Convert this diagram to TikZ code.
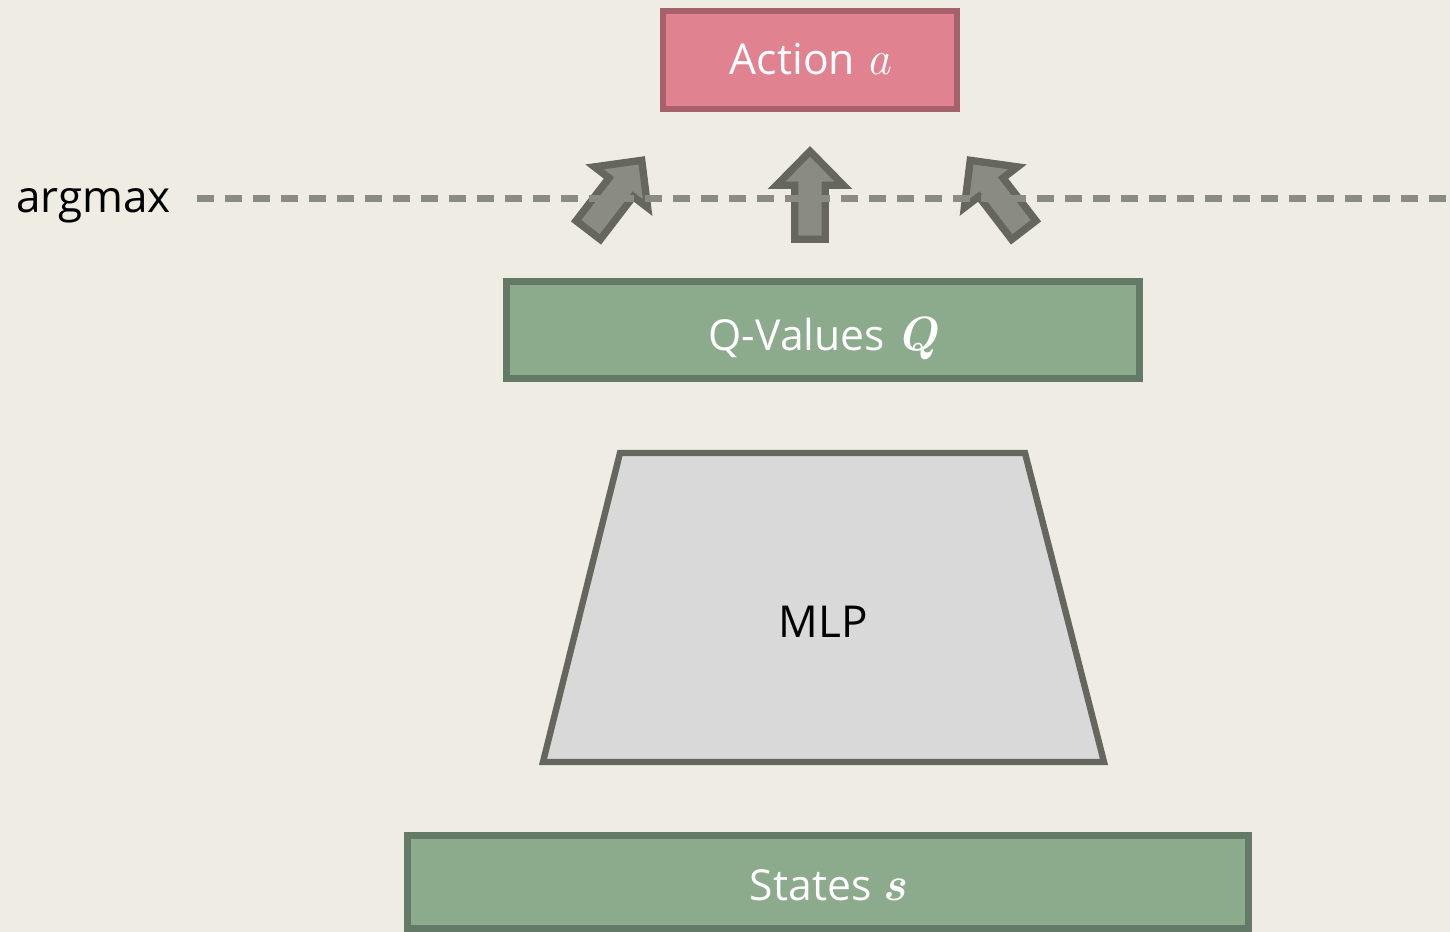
\documentclass[tikz,border=0pt]{standalone}
\usepackage{fontspec}
\setmainfont{Open Sans}
\newfontfamily\lmr{Latin Modern Roman}
\newcommand{\mvar}[1]{{\lmr\itshape #1}}
\newcommand{\mbvar}[1]{{\lmr\bfseries\itshape #1}}
\definecolor{bgcol}{HTML}{EFECE4}
\definecolor{actfill}{HTML}{E0828F}
\definecolor{actdraw}{HTML}{A7616B}
\definecolor{grnfill}{HTML}{8CAA8C}
\definecolor{grndraw}{HTML}{627A66}
\definecolor{mlpfill}{HTML}{D9D9D9}
\definecolor{mlpdraw}{HTML}{65675F}
\definecolor{arrfill}{HTML}{8A8C84}
\definecolor{arrdraw}{HTML}{65675F}
\tikzset{
  boxbase/.style={rectangle, inner sep=0pt, text=white, font=\fontsize{32}{38}\selectfont, line join=miter},
  actbox/.style={boxbase, fill=actfill, draw=actdraw, line width=5pt},
  grnbox/.style={boxbase, fill=grnfill, draw=grndraw, line width=5pt},
  mlpshape/.style={fill=mlpfill, draw=mlpdraw, line width=4.8pt, line join=miter},
  blockarrow/.style={fill=arrfill, draw=arrdraw, line width=5.5pt, line join=miter},
  dashline/.style={draw=arrfill, line width=5.25pt, dash pattern=on 12.5pt off 8.5pt},
  plaintext/.style={inner sep=0pt, text=black, font=\fontsize{33}{40}\selectfont}
}
\begin{document}
\begin{tikzpicture}[x=0.75pt, y=-0.75pt]
\useasboundingbox (0,0) rectangle (1450,932);
\fill[bgcol] (0,0) rectangle (1450,932);

% boxes
\node[actbox, minimum width=220.5pt, minimum height=73.5pt] (action) at (810,60) {};
\node[boxbase] (actiontext) at (810,59) {Action {\fontsize{36}{40}\selectfont\mvar{a}}};

\node[grnbox, minimum width=475pt, minimum height=72.75pt] (qvals) at (823,330) {};
\node[boxbase, text depth=0pt] (qtext) at (823,334) {Q-Values {\fontsize{36}{40}\selectfont\mbvar{Q}}};

\node[grnbox, minimum width=630.75pt, minimum height=70pt] (states) at (828,882) {};
\node[boxbase, text depth=0pt] (stext) at (828,885) {States {\fontsize{36}{40}\selectfont\mbvar{s}}};

% MLP trapezoid
\path[mlpshape] (620,453) -- (1025,453) -- (1104,762) -- (543,762) -- cycle;
\node[plaintext] (mlp) at (823,622) {MLP};

% argmax label
\node[plaintext, anchor=base west] (argmax) at (16,212) {argmax};

% block arrows
\begin{scope}[shift={(588.2,230.1)}, rotate=-37.5]
  \path[blockarrow] (-15.3,0) -- (-15.3,-54) -- (-33.5,-54) -- (0,-88) -- (33.5,-54) -- (15.3,-54) -- (15.3,0) -- cycle;
\end{scope}
\begin{scope}[shift={(810,239.3)}]
  \path[blockarrow] (-15.3,0) -- (-15.3,-54) -- (-33.5,-54) -- (0,-88) -- (33.5,-54) -- (15.3,-54) -- (15.3,0) -- cycle;
\end{scope}
\begin{scope}[shift={(1023.8,230.1)}, rotate=37.5]
  \path[blockarrow] (-15.3,0) -- (-15.3,-54) -- (-33.5,-54) -- (0,-88) -- (33.5,-54) -- (15.3,-54) -- (15.3,0) -- cycle;
\end{scope}

% dashed argmax line
\coordinate (dashstart) at (197,198);
\coordinate (dashend) at (1452,198);
\draw[dashline] (dashstart) -- (dashend);
\end{tikzpicture}
\end{document}
